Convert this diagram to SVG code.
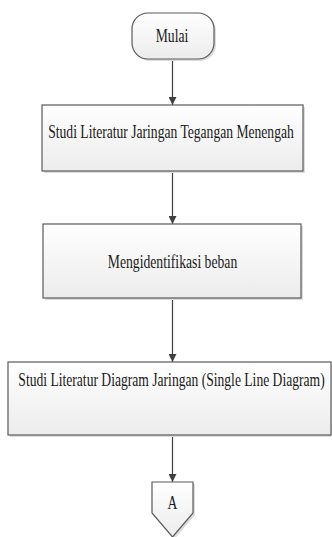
<svg xmlns="http://www.w3.org/2000/svg" width="332" height="537" viewBox="0 0 332 537">
<defs>
<linearGradient id="g" x1="0" y1="0" x2="0" y2="1">
<stop offset="0" stop-color="#ffffff"/>
<stop offset="1" stop-color="#ececec"/>
</linearGradient>
<marker id="arr" viewBox="0 0 10 10" refX="10" refY="5" markerWidth="8" markerHeight="8" markerUnits="userSpaceOnUse" orient="auto">
<path d="M0,0 L10,5 L0,10 Z" fill="#404040"/>
</marker>
</defs>
<style>
.shape{fill:url(#g);stroke:#5a5a5a;stroke-width:1.2}
.shadow{fill:#dcdcdc}
.t{font-family:"Liberation Serif","Times New Roman",serif;font-size:18.5px;fill:#1a1a1a;text-anchor:middle}
.c{stroke:#404040;stroke-width:1.2;fill:none;marker-end:url(#arr)}
</style>
<g id="connectors">
<line class="c" x1="172.5" y1="59" x2="172.5" y2="105"/>
<line class="c" x1="172.5" y1="171" x2="172.5" y2="224"/>
<line class="c" x1="172.5" y1="298" x2="172.5" y2="362"/>
<line class="c" x1="172.5" y1="435" x2="172.5" y2="482"/>
</g>
<g id="mulai">
<rect class="shadow" x="134" y="15" width="82" height="46" rx="16"/>
<rect class="shape" x="132" y="13" width="82" height="46" rx="16"/>
<text class="t" transform="translate(172 42) scale(0.74 1)">Mulai</text>
</g>
<g id="studi-literatur-jtm">
<rect class="shadow" x="44" y="107" width="261" height="66"/>
<rect class="shape" x="42" y="105" width="261" height="66"/>
<text class="t" transform="translate(171 138) scale(0.735 1)">Studi Literatur Jaringan Tegangan Menengah</text>
</g>
<g id="identifikasi-beban">
<rect class="shadow" x="45" y="226" width="258" height="74"/>
<rect class="shape" x="43" y="224" width="258" height="74"/>
<text class="t" transform="translate(172.5 268) scale(0.74 1)">Mengidentifikasi beban</text>
</g>
<g id="studi-literatur-sld">
<rect class="shadow" x="10" y="364" width="323" height="73"/>
<rect class="shape" x="8" y="362" width="323" height="73"/>
<text class="t" transform="translate(171.5 386) scale(0.735 1)">Studi Literatur Diagram Jaringan (Single Line Diagram)</text>
</g>
<g id="connector-a">
<path class="shadow" d="M154,484 L195,484 L195,515 L174.5,539 L154,515 Z"/>
<path class="shape" d="M152,482 L193,482 L193,513 L172.5,537 L152,513 Z"/>
<text class="t" transform="translate(172.5 509) scale(0.74 1)">A</text>
</g>
</svg>
